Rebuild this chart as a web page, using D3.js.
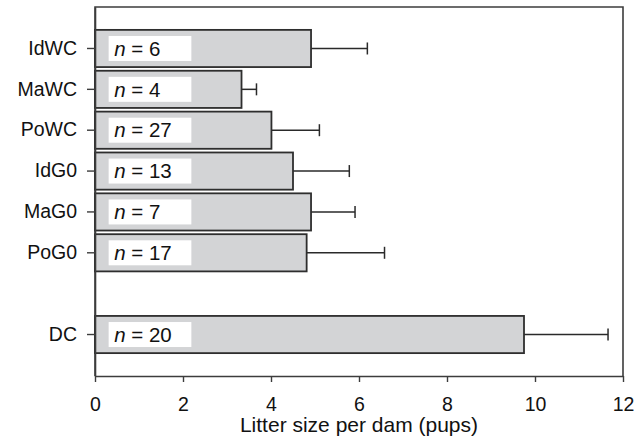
<!DOCTYPE html>
<html>
<head>
<meta charset="utf-8">
<script src="https://cdn.jsdelivr.net/npm/d3@7"></script>
<style>
  html, body { margin: 0; padding: 0; background: #fff; }
  svg { display: block; font-family: "Liberation Sans", Arial, sans-serif; }
</style>
</head>
<body>
<div id="chart"></div>
<script>
// ── Data ────────────────────────────────────────────────────
const groups   = ["IdWC", "MaWC", "PoWC", "IdG0", "MaG0", "PoG0", "", "DC"];
const means    = [4.91, 3.33, 4.01, 4.50, 4.91, 4.81, null, 9.75];
const errTops  = [6.19, 3.67, 5.10, 5.78, 5.91, 6.58, null, 11.66];
const counts   = [6, 4, 27, 13, 7, 17, null, 20];
const xTicks   = [0, 2, 4, 6, 8, 10, 12];

const W = 644, H = 437;
const margin = { top: 7, right: 21, bottom: 61, left: 95 };
const innerW = W - margin.left - margin.right;
const innerH = H - margin.top - margin.bottom;

const rows = groups.map((g, i) => ({ g, mean: means[i], top: errTops[i], n: counts[i] }))
                   .filter(d => d.mean != null);

const svg = d3.select("#chart").append("svg")
  .attr("width", W).attr("height", H);

const g = svg.append("g").attr("transform", `translate(${margin.left},${margin.top})`);

// ── Scales ──────────────────────────────────────────────────
const x = d3.scaleLinear().domain([0, 12]).range([0, innerW]);
const y = d3.scaleBand().domain(groups).range([0, innerH])
  .paddingInner(0.09).paddingOuter(0.56);

// ── Frame (top/right lines) ─────────────────────────────────
g.append("path")
  .attr("d", `M0,${innerH} V0 H${innerW} V${innerH}`)
  .attr("fill", "none")
  .attr("stroke", "#3c3c3c")
  .attr("stroke-width", 1.6);

// ── Error bars (drawn under bars) ───────────────────────────
const eb = g.append("g").attr("stroke", "#2a2a2a").attr("stroke-width", 1.5);
eb.selectAll("line.stem").data(rows).join("line")
  .attr("class", "stem")
  .attr("x1", d => x(d.mean)).attr("x2", d => x(d.top))
  .attr("y1", d => y(d.g) + y.bandwidth() / 2)
  .attr("y2", d => y(d.g) + y.bandwidth() / 2);
eb.selectAll("line.cap").data(rows).join("line")
  .attr("class", "cap")
  .attr("x1", d => x(d.top)).attr("x2", d => x(d.top))
  .attr("y1", d => y(d.g) + y.bandwidth() / 2 - 6)
  .attr("y2", d => y(d.g) + y.bandwidth() / 2 + 6);

// ── Bars ────────────────────────────────────────────────────
g.selectAll("rect.bar").data(rows).join("rect")
  .attr("class", "bar")
  .attr("x", x(0))
  .attr("y", d => y(d.g))
  .attr("width", d => x(d.mean) - x(0))
  .attr("height", y.bandwidth())
  .attr("fill", "#d3d4d6")
  .attr("stroke", "#2e2e2e")
  .attr("stroke-width", 1.8);

// ── n = … label boxes ───────────────────────────────────────
const boxH = 25;
const lab = g.selectAll("g.nlab").data(rows).join("g")
  .attr("class", "nlab")
  .attr("transform", d => `translate(${x(0.31)},${y(d.g) + y.bandwidth() / 2})`);
lab.append("rect")
  .attr("x", 0).attr("y", -boxH / 2)
  .attr("width", x(1.88) - x(0)).attr("height", boxH)
  .attr("fill", "#fff");
const t = lab.append("text")
  .attr("x", 5.5).attr("dy", "0.35em")
  .attr("font-size", 20.5).attr("fill", "#111");
t.append("tspan").attr("font-style", "italic").text("n");
t.append("tspan").text(d => ` = ${d.n}`);

// ── Axes ────────────────────────────────────────────────────
const xAxis = g.append("g")
  .attr("transform", `translate(0,${innerH})`)
  .call(d3.axisBottom(x).tickValues(xTicks).tickSize(6).tickPadding(15).tickSizeOuter(0));

const yAxis = g.append("g")
  .call(d3.axisLeft(y).tickValues(groups.filter(d => d)).tickSize(8).tickPadding(10).tickSizeOuter(0));

[xAxis, yAxis].forEach(a => {
  a.select(".domain").attr("stroke", "#3c3c3c").attr("stroke-width", 1.6);
  a.selectAll(".tick line").attr("stroke", "#3c3c3c").attr("stroke-width", 1.4);
  a.selectAll(".tick text")
    .attr("font-family", "'Liberation Sans', Arial, sans-serif")
    .attr("font-size", 19.5).attr("fill", "#111");
});

// ── Axis title ──────────────────────────────────────────────
svg.append("text")
  .attr("x", margin.left + innerW / 2)
  .attr("y", 432)
  .attr("text-anchor", "middle")
  .attr("font-size", 21)
  .attr("fill", "#111")
  .text("Litter size per dam (pups)");
</script>
</body>
</html>
